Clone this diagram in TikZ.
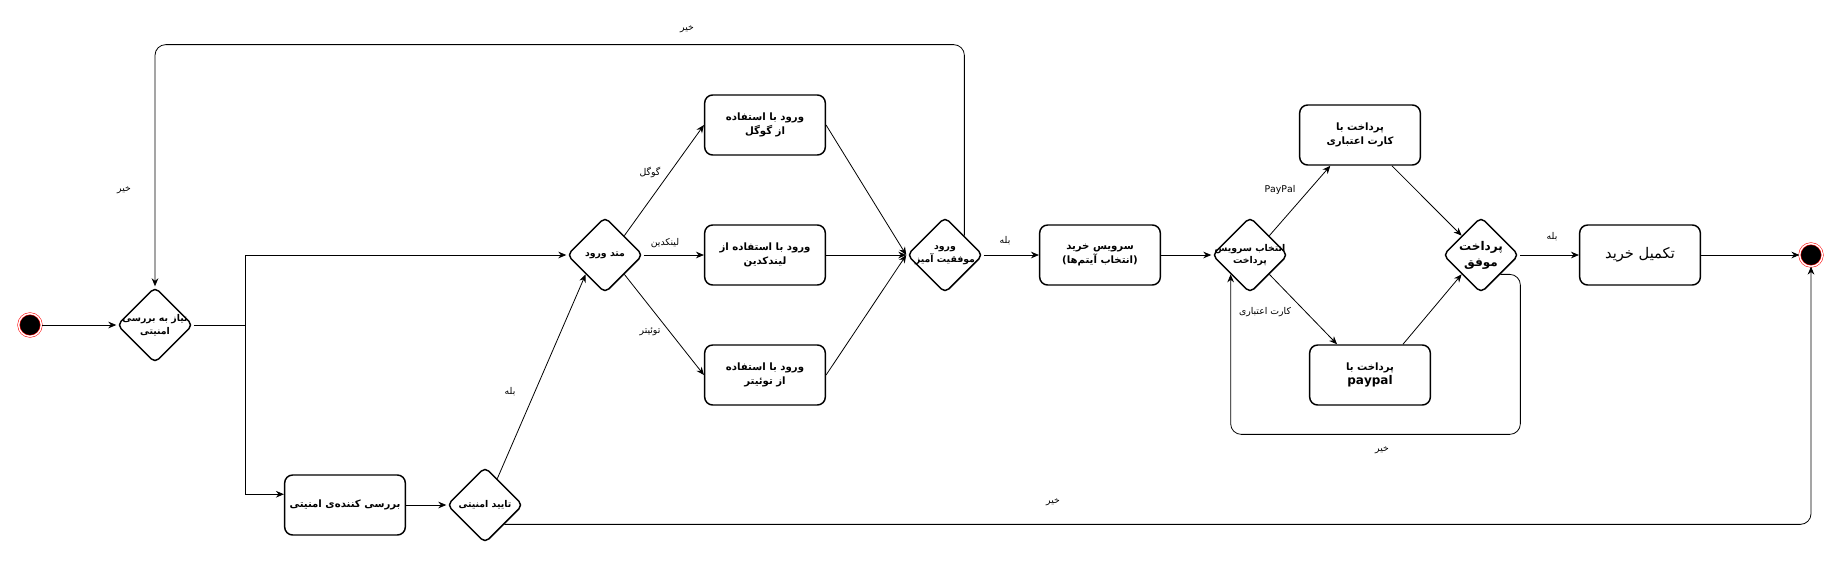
\documentclass[tikz,border=0pt]{standalone}
\usepackage{fontspec}
\usepackage{tikz}
\usetikzlibrary{shapes.geometric, arrows.meta}
\setmainfont{DejaVu Sans}
\newfontfamily\fafont[Script=Arabic]{DejaVu Sans}
\TeXXeTstate=1

\tikzset{
  action/.style={draw, rounded corners=6pt, line width=1.1pt, minimum width=90.5pt, minimum height=45pt,
    align=center, font=\fontsize{7.6}{11}\selectfont\bfseries\fafont},
  decision/.style={draw, diamond, rounded corners=4pt, line width=1.1pt, minimum width=57pt, minimum height=57pt, inner sep=0pt},
  dtext/.style={align=center, inner sep=0pt, font=\fontsize{7}{9.5}\selectfont\bfseries\fafont},
  terminal/.style={circle, fill=black, draw=red, line width=0.4pt, double=white, double distance=1.1pt,
    minimum size=17pt, inner sep=0pt},
  flow/.style={-{Stealth[length=6pt,width=5pt]}, line width=0.6pt},
  lbl/.style={font=\fontsize{7}{9}\selectfont\fafont, inner sep=1pt}
}

\begin{document}
\begin{tikzpicture}[x=0.75pt, y=-0.75pt]
  \useasboundingbox (0,0) rectangle (1841,562);

  % start and security check
  \node[terminal] (start) at (30,325) {};
  \node[decision, label={[dtext]center:{\beginR نیاز به بررسی\endR\\\beginR امنیتی\endR}}] (need) at (155,325) {};
  \node[action] (check) at (345,505) {\beginR بررسی کننده‌ی امنیتی\endR};
  \node[decision, label={[dtext]center:{\beginR تایید امنیتی\endR}}] (confirm) at (485,505) {};

  % login methods
  \node[decision, label={[dtext]center:{\beginR متد ورود\endR}}] (method) at (605,255) {};
  \node[action] (google) at (765,125) {\beginR ورود با استفاده\endR\\\beginR از گوگل\endR};
  \node[action] (linkedin) at (765,255) {\beginR ورود با استفاده از\endR\\\beginR لیندکدین\endR};
  \node[action] (twitter) at (765,375) {\beginR ورود با استفاده\endR\\\beginR از توئیتر\endR};
  \node[decision, label={[dtext]center:{\beginR ورود\endR\\\beginR موفقیت آمیز\endR}}] (success) at (945,255) {};

  % shopping and payment
  \node[action] (shop) at (1100,255) {\beginR سرویس خرید\endR\\\beginR (انتخاب آیتم‌ها)\endR};
  \node[decision, label={[dtext]center:{\beginR انتخاب سرویس\endR\\\beginR پرداخت\endR}}] (choose) at (1250,255) {};
  \node[action] (card) at (1360,135) {\beginR پرداخت با\endR\\\beginR کارت اعتباری\endR};
  \node[action] (paypal) at (1370,375) {\beginR پرداخت با\endR\\{\fontsize{9}{12}\selectfont paypal}};
  \node[decision, label={[dtext, font=\fontsize{9}{12}\selectfont\bfseries\fafont]center:{\beginR پرداخت\endR\\\beginR موفق\endR}}] (paysucc) at (1481,255) {};
  \node[action, font=\fontsize{11}{13}\selectfont\fafont] (complete) at (1640,255) {\beginR تکمیل خرید\endR};
  \node[terminal] (final) at (1811,255) {};

  % connectors
  \draw[flow] (start) -- (need.west);
  \draw[line width=0.6pt] (need.east) -- ++(52,0) coordinate (fork);
  \draw[flow] (fork) |- (method.west);
  \draw[flow] (fork) |- (check.170);
  \draw[flow] (check.east) -- (confirm.west);
  \draw[flow] (confirm.65) -- (method.south west);
  \draw[flow, rounded corners=8pt] (confirm.south east) -| (final.south);

  \draw[flow] (method.north east) -- (google.west);
  \draw[flow] (method.east) -- (linkedin.west);
  \draw[flow] (method.south east) -- (twitter.west);
  \draw[flow] (google.east) -- (success.west);
  \draw[flow] (linkedin.east) -- (success.west);
  \draw[flow] (twitter.east) -- (success.west);
  \draw[flow, rounded corners=8pt] (success.north east) -- ++(0,-191) -| (need.north);

  \draw[flow] (success.east) -- (shop.west);
  \draw[flow] (shop.east) -- (choose.west);
  \draw[flow] (choose.north east) -- (card.226);
  \draw[flow] (choose.south east) -- (paypal.137);
  \draw[flow] (card.-44) -- (paysucc.north west);
  \draw[flow] (paypal.43) -- (paysucc.south west);
  \draw[flow, rounded corners=8pt] (paysucc.south east) -| ++(20,160) -| (choose.south west);
  \draw[flow] (paysucc.east) -- (complete.west);
  \draw[flow] (complete.east) -- (final.west);

  % labels
  \node[lbl] (lyes1) at (510,392) {\beginR بله\endR};
  \node[lbl] (lgoogle) at (650,172) {\beginR گوگل\endR};
  \node[lbl] (llinkedin) at (665,243) {\beginR لینکدین\endR};
  \node[lbl] (ltwitter) at (650,332) {\beginR توئیتر\endR};
  \node[lbl] (lyes2) at (1005,241) {\beginR بله\endR};
  \node[lbl] (lno1) at (687,29) {\beginR خیر\endR};
  \node[lbl] (lno2) at (124,190) {\beginR خیر\endR};
  \node[lbl] (lno3) at (1053,502) {\beginR خیر\endR};
  \node[lbl] (lpaypal) at (1280,190) {PayPal};
  \node[lbl] (lcard) at (1265,312) {\beginR کارت اعتباری\endR};
  \node[lbl] (lno4) at (1382,450) {\beginR خیر\endR};
  \node[lbl] (lyes3) at (1552,237) {\beginR بله\endR};
\end{tikzpicture}
\end{document}
